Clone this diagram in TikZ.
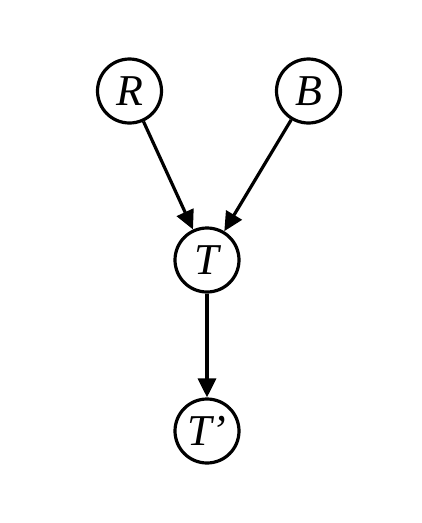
\documentclass[tikz,border=0pt]{standalone}
\usepackage{fontspec}
\setmainfont{Liberation Serif}
\usetikzlibrary{arrows.meta}
\begin{document}
\begin{tikzpicture}[x=1pt,y=-1pt,
  var/.style={circle,draw,line width=3.2pt,minimum size=64pt,inner sep=0pt,font=\fontsize{44}{44}\selectfont\itshape},
  edge/.style={line width=3.2pt,-{Triangle[length=19pt,width=18pt]}}]
\useasboundingbox (0,0) rectangle (422,523);
\node[var] (R) at (129.5,91) {R};
\node[var] (B) at (308.5,91) {B};
\node[var] (T) at (207,260) {T};
\node[var] (Tp) at (207,431) {T’};
\draw[edge] (R) -- (T);
\draw[edge] (B) -- (T);
\draw[edge] (T) -- (Tp);
\end{tikzpicture}
\end{document}
